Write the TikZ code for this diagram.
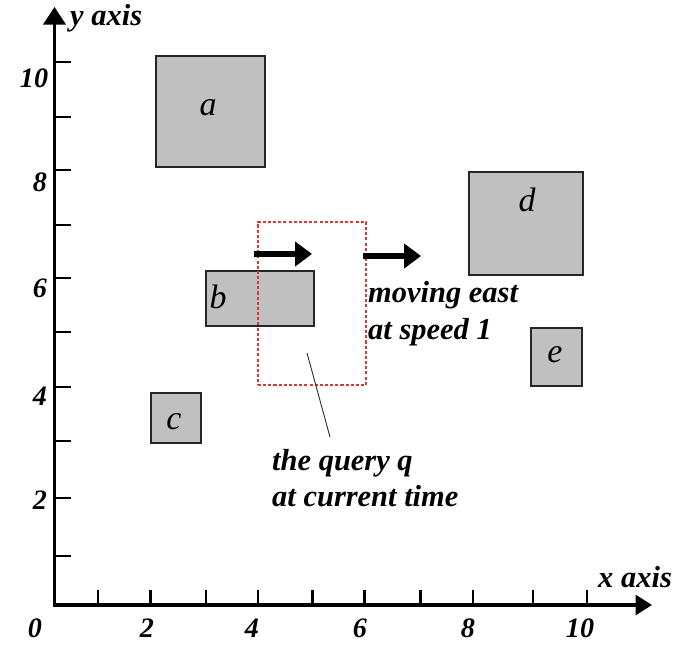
\documentclass[tikz,border=0pt]{standalone}
\usepackage{fontspec}
\setmainfont{Liberation Serif}
\usetikzlibrary{arrows.meta,fit}
\begin{document}
\begin{tikzpicture}[x=0.03cm,y=-0.03cm,
  axisline/.style={line width=2.6pt, line join=miter},
  tickline/.style={line width=2.4pt},
  obj/.style={draw=black!85, line width=1.2pt, fill={rgb,255:red,192;green,192;blue,192}, inner sep=0pt},
  objlabel/.style={font=\fontsize{29}{30}\selectfont\itshape, inner sep=0pt},
  txt/.style={font=\fontsize{26}{30}\selectfont\bfseries\itshape, inner sep=0pt},
  num/.style={font=\fontsize{24}{25}\selectfont\bfseries\itshape, inner sep=0pt},
  query/.style={draw={rgb,255:red,215;green,55;blue,55}, line width=1pt, dash pattern=on 2.6pt off 1.8pt, inner sep=0pt},
  movearrow/.style={line width=4.3pt, -{Triangle[length=14.5pt,width=20.5pt]}},
  pointer/.style={line width=0.8pt, draw=black!80}]
\useasboundingbox (0,0) rectangle (674,644);
% axes
\coordinate (O) at (54.5,605);
\coordinate (ytip) at (54.5,7);
\coordinate (xtip) at (652,605);
\draw[axisline, {Triangle[length=15pt,width=19pt]}-{Triangle[length=14pt,width=17pt]}] (ytip) -- (O) -- (xtip);
% x ticks
\foreach \t in {98,150.5,206,258,312.5,364.5,420.5,473,533,587}
  \draw[tickline] (\t,605) -- (\t,590);
% y ticks
\foreach \t in {62,117,170,225,278,332,387,441,498,556}
  \draw[tickline] (54.5,\t) -- (71,\t);
% axis labels
\node[txt, anchor=base west] (ylab) at (70,25) {y axis};
\node[txt, anchor=base west] (xlab) at (598,587) {x axis};
% numbers
\node[num, anchor=base] (n0) at (35,637) {0};
\node[num, anchor=base] (nx2) at (147,637) {2};
\node[num, anchor=base] (nx4) at (252,637) {4};
\node[num, anchor=base] (nx6) at (360,637) {6};
\node[num, anchor=base] (nx8) at (468,637) {8};
\node[num, anchor=base] (nx10) at (580,637) {10};
\node[num] (ny10) at (34,78) {10};
\node[num] (ny8) at (40,182) {8};
\node[num] (ny6) at (40,288) {6};
\node[num] (ny4) at (40,396) {4};
\node[num] (ny2) at (40,500) {2};
% objects
\node[obj, fit={(156,56) (265,167)}] (a) {};
\node[obj, fit={(206,271) (314,326)}] (b) {};
\node[obj, fit={(151,393) (201,443)}] (c) {};
\node[obj, fit={(469,172) (583,275)}] (d) {};
\node[obj, fit={(531,328) (582,386)}] (e) {};
\node[objlabel] (la) at (208,108) {a};
\node[objlabel] (lb) at (218,297) {b};
\node[objlabel] (lc) at (174,422) {c};
\node[objlabel] (ld) at (527,200) {d};
\node[objlabel] (le) at (555,355) {e};
% query
\node[query, fit={(258,222) (366,385)}] (q) {};
% movement arrows
\coordinate (m1s) at (254,254);
\coordinate (m1e) at (312,254);
\coordinate (m2s) at (363,256);
\coordinate (m2e) at (421,256);
\draw[movearrow] (m1s) -- (m1e);
\draw[movearrow] (m2s) -- (m2e);
% texts
\node[txt, anchor=base west] (mv1) at (368,302) {moving east};
\node[txt, anchor=base west] (mv2) at (368,339) {at speed 1};
\node[txt, anchor=base west] (ql1) at (272,470) {the query q};
\node[txt, anchor=base west] (ql2) at (272,506) {at current time};
\coordinate (pq) at (307,353);
\coordinate (pt) at (330,437);
\draw[pointer] (pq) -- (pt);
\end{tikzpicture}
\end{document}
